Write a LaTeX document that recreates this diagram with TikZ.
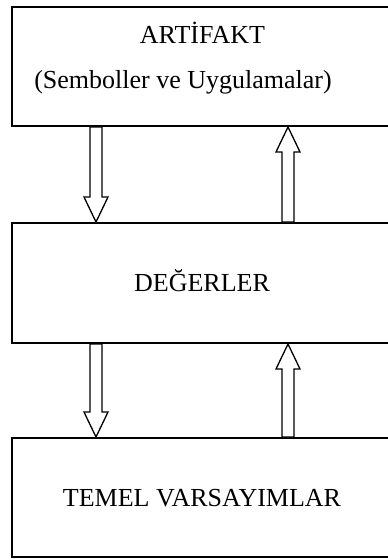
\documentclass[tikz,border=0pt]{standalone}
\usepackage{fontspec}
\setmainfont{Liberation Serif}
\usetikzlibrary{calc}

% hollow block arrow from one box edge to the other
\newcommand{\hollowarrow}[2]{%
    \draw [block arrow] let \p1=(#1), \p2=(#2), \p3=($(\p2)!25pt!(\p1)$) in
    (\x1-6pt,\y1) -- (\x1-6pt,\y3) -- (\x1-12pt,\y3) -- (\x2,\y2)
    -- (\x1+12pt,\y3) -- (\x1+6pt,\y3) -- (\x1+6pt,\y1) -- cycle;}

\begin{document}
\begin{tikzpicture}[x=1pt, y=-1pt]

    \tikzset{%
    layer box/.style={
        draw,
        line width=2pt,
        minimum width=380pt,
        inner sep=0pt,
        text height=17pt,
        text depth=0pt,
        font=\fontsize{26}{31}\selectfont
        },
    caption/.style={
        inner sep=0pt,
        font=\fontsize{26}{31}\selectfont
        },
    block arrow/.style={
        draw,
        fill=white,
        line width=1.3pt
        },
    }

    \useasboundingbox (0,0) rectangle (388,560);

    % The three layers
    \node [layer box, minimum height=119pt] (artifakt) at (202,66.5) {};
    \node [layer box, minimum height=120pt] (degerler) at (202,283) {DEĞERLER};
    \node [layer box, minimum height=119pt] (temel) at (202,497.5) {TEMEL VARSAYIMLAR};

    % Texts of the top layer
    \node [caption, anchor=base] (artifakt-title) at (202.5,43) {ARTİFAKT};
    \node [caption, anchor=base] (artifakt-sub) at (183,88) {(Semboller ve Uygulamalar)};

    % Downward arrows
    \hollowarrow{[xshift=-106pt]artifakt.south}{[xshift=-106pt]degerler.north}
    \hollowarrow{[xshift=-106pt]degerler.south}{[xshift=-106pt]temel.north}

    % Upward arrows
    \hollowarrow{[xshift=86pt]degerler.north}{[xshift=86pt]artifakt.south}
    \hollowarrow{[xshift=86pt]temel.north}{[xshift=86pt]degerler.south}

\end{tikzpicture}
\end{document}
